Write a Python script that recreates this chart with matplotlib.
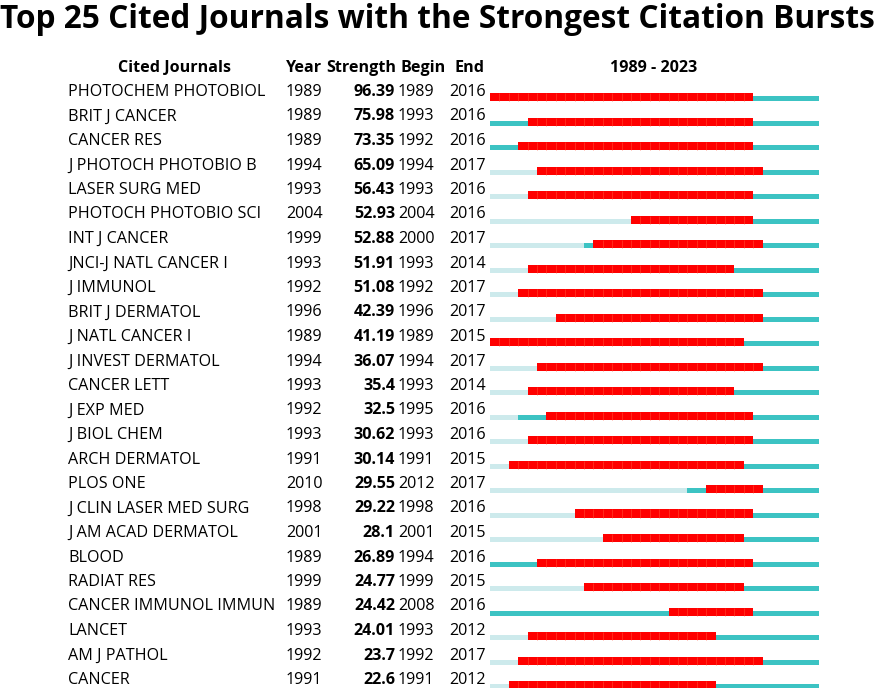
import matplotlib.pyplot as plt
import matplotlib.transforms as mtransforms

plt.rcParams['font.family'] = ['Open Sans', 'DejaVu Sans']

journals = ['PHOTOCHEM PHOTOBIOL', 'BRIT J CANCER', 'CANCER RES', 'J PHOTOCH PHOTOBIO B',
            'LASER SURG MED', 'PHOTOCH PHOTOBIO SCI', 'INT J CANCER', 'JNCI-J NATL CANCER I',
            'J IMMUNOL', 'BRIT J DERMATOL', 'J NATL CANCER I', 'J INVEST DERMATOL',
            'CANCER LETT', 'J EXP MED', 'J BIOL CHEM', 'ARCH DERMATOL', 'PLOS ONE',
            'J CLIN LASER MED SURG', 'J AM ACAD DERMATOL', 'BLOOD', 'RADIAT RES',
            'CANCER IMMUNOL IMMUN', 'LANCET', 'AM J PATHOL', 'CANCER']
years = [1989, 1989, 1989, 1994, 1993, 2004, 1999, 1993, 1992, 1996, 1989, 1994, 1993,
         1992, 1993, 1991, 2010, 1998, 2001, 1989, 1999, 1989, 1993, 1992, 1991]
strength = ['96.39', '75.98', '73.35', '65.09', '56.43', '52.93', '52.88', '51.91', '51.08',
            '42.39', '41.19', '36.07', '35.4', '32.5', '30.62', '30.14', '29.55', '29.22',
            '28.1', '26.89', '24.77', '24.42', '24.01', '23.7', '22.6']
begin = [1989, 1993, 1992, 1994, 1993, 2004, 2000, 1993, 1992, 1996, 1989, 1994, 1993,
         1995, 1993, 1991, 2012, 1998, 2001, 1994, 1999, 2008, 1993, 1992, 1991]
end = [2016, 2016, 2016, 2017, 2016, 2016, 2017, 2014, 2017, 2017, 2015, 2017, 2014,
       2016, 2016, 2015, 2017, 2016, 2015, 2016, 2015, 2016, 2012, 2017, 2012]
start_year, end_year = 1989, 2023

red = '#ff0000'
teal = '#3cc3c3'
pale = '#cdeaec'

W, H = 886, 688
fig = plt.figure(figsize=(W / 100, H / 100), dpi=100)
ax = fig.add_axes([490 / W, 0, 329 / W, 1])
ax.set_xlim(start_year, end_year + 1)
# row i centred at 97 + 24.5*i pixels from the top
ax.set_ylim((H - 97) / 24.5, -97 / 24.5)
ax.axis('off')

thin = 5 / 24.5
thick = 8 / 24.5
base = 4 / 24.5

for i in range(len(journals)):
    # light bar before the journal appears, teal after
    ax.barh(i + base - thin, years[i] - start_year, height=thin, left=start_year,
            align='edge', color=pale, lw=0)
    ax.barh(i + base - thin, end_year + 1 - years[i], height=thin, left=years[i],
            align='edge', color=teal, lw=0)
    ax.barh(i + base - thick, end[i] + 1 - begin[i], height=thick, left=begin[i],
            align='edge', color=red, lw=0)
    # faint year seams inside the burst
    ax.vlines(range(begin[i] + 1, end[i] + 1), i + base - thick, i + base,
              color='#ff4a30', lw=0.4)

tr = mtransforms.blended_transform_factory(fig.transFigure, ax.transData)
fs = 11.6
for i in range(len(journals)):
    yy = i - 5 / 24.5
    ax.text(68 / W, yy, journals[i], transform=tr, fontsize=fs, va='center', ha='left')
    ax.text(286 / W, yy, str(years[i]), transform=tr, fontsize=fs, va='center', ha='left')
    ax.text(395 / W, yy, strength[i], transform=tr, fontsize=fs, va='center', ha='right',
            fontweight='bold')
    ax.text(398 / W, yy, str(begin[i]), transform=tr, fontsize=fs, va='center', ha='left')
    ax.text(449 / W, yy, str(end[i]), transform=tr, fontsize=fs, va='center', ha='left')

hy = 1 - 68 / H
hfs = 11.6
fig.text(175 / W, hy, 'Cited Journals', fontsize=hfs, fontweight='bold', ha='center', va='center')
fig.text(286 / W, hy, 'Year', fontsize=hfs, fontweight='bold', ha='left', va='center')
fig.text(326 / W, hy, 'Strength', fontsize=hfs, fontweight='bold', ha='left', va='center')
fig.text(400 / W, hy, 'Begin', fontsize=hfs, fontweight='bold', ha='left', va='center')
fig.text(454 / W, hy, 'End', fontsize=hfs, fontweight='bold', ha='left', va='center')
fig.text(654 / W, hy, f'{start_year} - {end_year}', fontsize=hfs, fontweight='bold',
         ha='center', va='center')

fig.text(0, 1 - 19 / H, 'Top 25 Cited Journals with the Strongest Citation Bursts',
         fontsize=22.8, fontweight='bold', ha='left', va='center')

fig.savefig('out.png', dpi=100)
